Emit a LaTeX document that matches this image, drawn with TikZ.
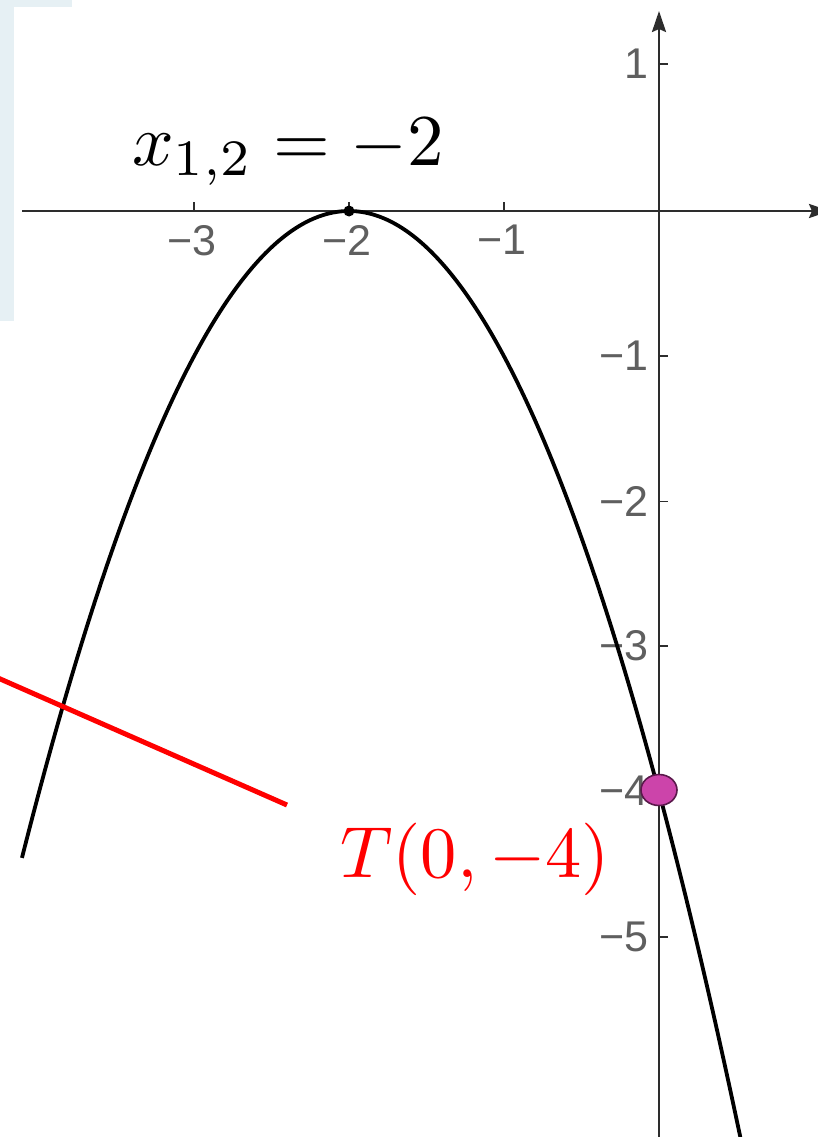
\documentclass[tikz,border=0pt]{standalone}
\usepackage{fontspec}
\newfontfamily\ticksfont{Liberation Sans}
\usetikzlibrary{arrows.meta,shapes.geometric}
\definecolor{panelblue}{RGB}{230,240,244}
\definecolor{axisgray}{RGB}{45,45,45}
\definecolor{labelgray}{RGB}{95,95,95}
\definecolor{ptfill}{RGB}{204,68,170}
\definecolor{ptdraw}{RGB}{90,25,75}
\tikzset{
  axisline/.style={draw=axisgray, line width=2.5pt, -{Stealth[length=21pt,width=14pt,inset=3pt]}},
  tickline/.style={draw=axisgray, line width=1.8pt},
  ticklab/.style={text=labelgray, font=\ticksfont\fontsize{43}{50}\selectfont, inner sep=0pt},
  curveline/.style={draw=black, line width=3.8pt},
  redline/.style={draw=red, line width=5pt},
}
\begin{document}
\begin{tikzpicture}[x=1pt,y=-1pt]
\useasboundingbox (0,0) rectangle (818,1137);
\clip (0,0) rectangle (818,1137);
% light panel in the corner
\fill[panelblue] (0,0) rectangle (72,7);
\fill[panelblue] (0,0) rectangle (14,321);
% axes
\coordinate (xs) at (22,211);
\coordinate (xe) at (830,211);
\coordinate (ys) at (659,1150);
\coordinate (ye) at (659,11);
\draw[axisline] (xs) -- (xe);
\draw[axisline] (ys) -- (ye);
% x ticks
\foreach \t [count=\i] in {194,349,504}{
  \coordinate (xt\i) at (\t,211);
  \draw[tickline] (xt\i) -- ++(0,-9);
}
\node[ticklab, anchor=north] (lxm3) at (192,225) {\char"2212 3};
\node[ticklab, anchor=north] (lxm2) at (347,225) {\char"2212 2};
\node[ticklab, anchor=north] (lxm1) at (502,225) {\char"2212 1};
% y ticks
\foreach \v in {64,356,501.5,646,790.5,937}{
  \draw[tickline] (659,\v) -- ++(9,0);
}
\node[ticklab, anchor=east] (ly1) at (649,64) {1};
\node[ticklab, anchor=east] (lym1) at (649,356) {\char"2212 1};
\node[ticklab, anchor=east] (lym2) at (649,501.5) {\char"2212 2};
\node[ticklab, anchor=east] (lym3) at (649,646) {\char"2212 3};
\node[ticklab, anchor=east] (lym4) at (649,790.5) {\char"2212 4};
\node[ticklab, anchor=east] (lym5) at (649,937) {\char"2212 5};
% parabola y = -(x+2)^2
\draw[curveline] plot[domain=-4.11:0.56, samples=120, smooth] ({659+155*\x},{211+145.3*(\x+2)*(\x+2)});
% red pointer line
\coordinate (ra) at (-2,678);
\coordinate (rb) at (287,805);
\draw[redline] (ra) -- (rb);
% vertex point
\node[circle, fill=black, inner sep=0pt, minimum size=11pt] (vtx) at (349,211) {};
% intercept point
\node[ellipse, fill=ptfill, draw=ptdraw, line width=1.6pt, minimum width=36pt, minimum height=31pt, inner sep=0pt] (tpt) at (659,790) {};
% texts
\node[anchor=base west, inner sep=0pt] (roots) at (132,165) {\scalebox{7.3}{$x_{1,2}=-2$}};
\node[anchor=base west, inner sep=0pt, text=red] (tlab) at (340,877) {\scalebox{7.25}{$T(0,-4)$}};
\end{tikzpicture}
\end{document}
